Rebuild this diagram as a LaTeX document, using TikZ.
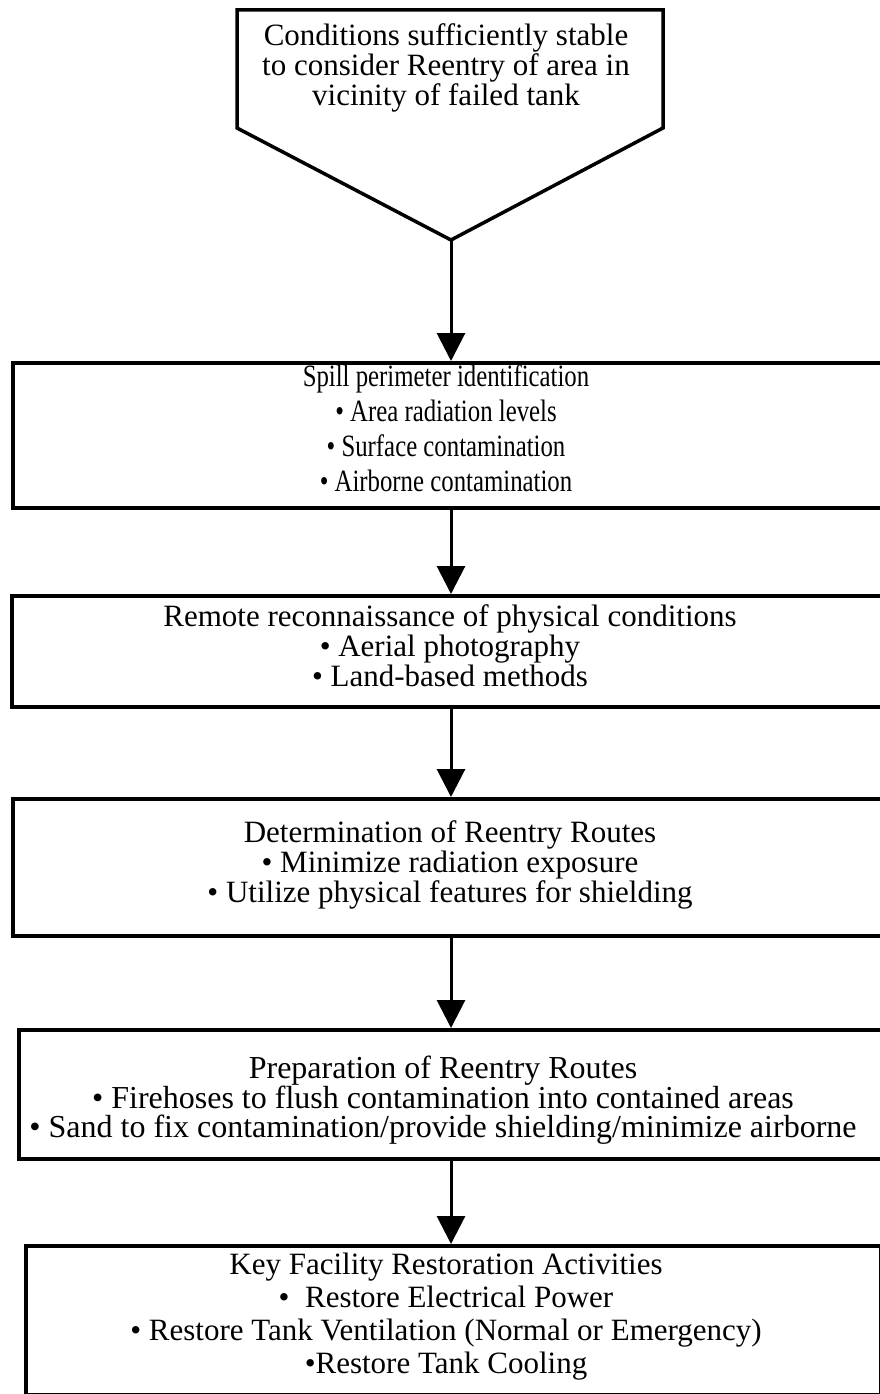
\documentclass[tikz,border=0pt]{standalone}
\usepackage{fontspec}
\setmainfont{Liberation Serif}
\newfontfamily\condserif{Liberation Serif}[FakeStretch=0.8]
\usetikzlibrary{arrows.meta}
\tikzset{
  stagebox/.style={draw=black, line width=3.5pt, inner sep=0pt, anchor=north west},
  boxtext/.style={inner sep=0pt, align=center},
  flowarrow/.style={line width=3pt, -{Triangle[width=28pt,length=28pt]}},
  bigtext/.style={font=\fontsize{31}{30}\selectfont},
}
\begin{document}
\begin{tikzpicture}[x=1pt,y=-1pt]
\clip (0,0) rectangle (880,1394);
\fill[white] (0,0) rectangle (880,1394);
% top pentagon
\coordinate (tip) at (451,240);
\coordinate (pTL) at (237,10);
\coordinate (pTR) at (663,10);
\coordinate (pR) at (663,128);
\coordinate (pL) at (237,128);
\draw[line width=3.5pt, line join=miter] (pTL) -- (pTR) -- (pR) -- (tip) -- (pL) -- cycle;
\node[boxtext, bigtext] (start) at (446,68)
  {Conditions sufficiently stable\\to consider Reentry of area in\\vicinity of failed tank};
% boxes
\node[stagebox, minimum width=880pt, minimum height=145pt] (b1) at (11,361) {};
\node[stagebox, minimum width=880pt, minimum height=111pt] (b2) at (10,594) {};
\node[stagebox, minimum width=880pt, minimum height=137pt] (b3) at (11,797) {};
\node[stagebox, minimum width=880pt, minimum height=129pt] (b4) at (17,1028) {};
\node[stagebox, minimum width=855pt, minimum height=149pt] (b5) at (24,1244) {};
% box texts
\node[boxtext, font=\fontsize{31}{35}\selectfont\condserif] (t1) at (446,428)
  {Spill perimeter identification\\• Area radiation levels\\• Surface contamination\\• Airborne contamination};
\node[boxtext, bigtext] (t2) at (450,645.5)
  {Remote reconnaissance of physical conditions\\• Aerial photography\\• Land-based methods};
\node[boxtext, bigtext] (t3) at (450,864.5)
  {Determination of Reentry Routes\\• Minimize radiation exposure\\• Utilize physical features for shielding};
\node[boxtext, font=\fontsize{32}{29}\selectfont] (t4) at (443,1100)
  {Preparation of Reentry Routes\\• Firehoses to flush contamination into contained areas\\• Sand to fix contamination/provide shielding/minimize airborne};
\node[boxtext, font=\fontsize{31}{33}\selectfont] (t5) at (446,1317)
  {Key Facility Restoration Activities\\•\ \ Restore Electrical Power\\• Restore Tank Ventilation (Normal or Emergency)\\•Restore Tank Cooling};
% connectors
\draw[flowarrow] (tip) -- (tip |- b1.north);
\draw[flowarrow] (tip |- b1.south) -- (tip |- b2.north);
\draw[flowarrow] (tip |- b2.south) -- (tip |- b3.north);
\draw[flowarrow] (tip |- b3.south) -- (tip |- b4.north);
\draw[flowarrow] (tip |- b4.south) -- (tip |- b5.north);
\end{tikzpicture}
\end{document}
